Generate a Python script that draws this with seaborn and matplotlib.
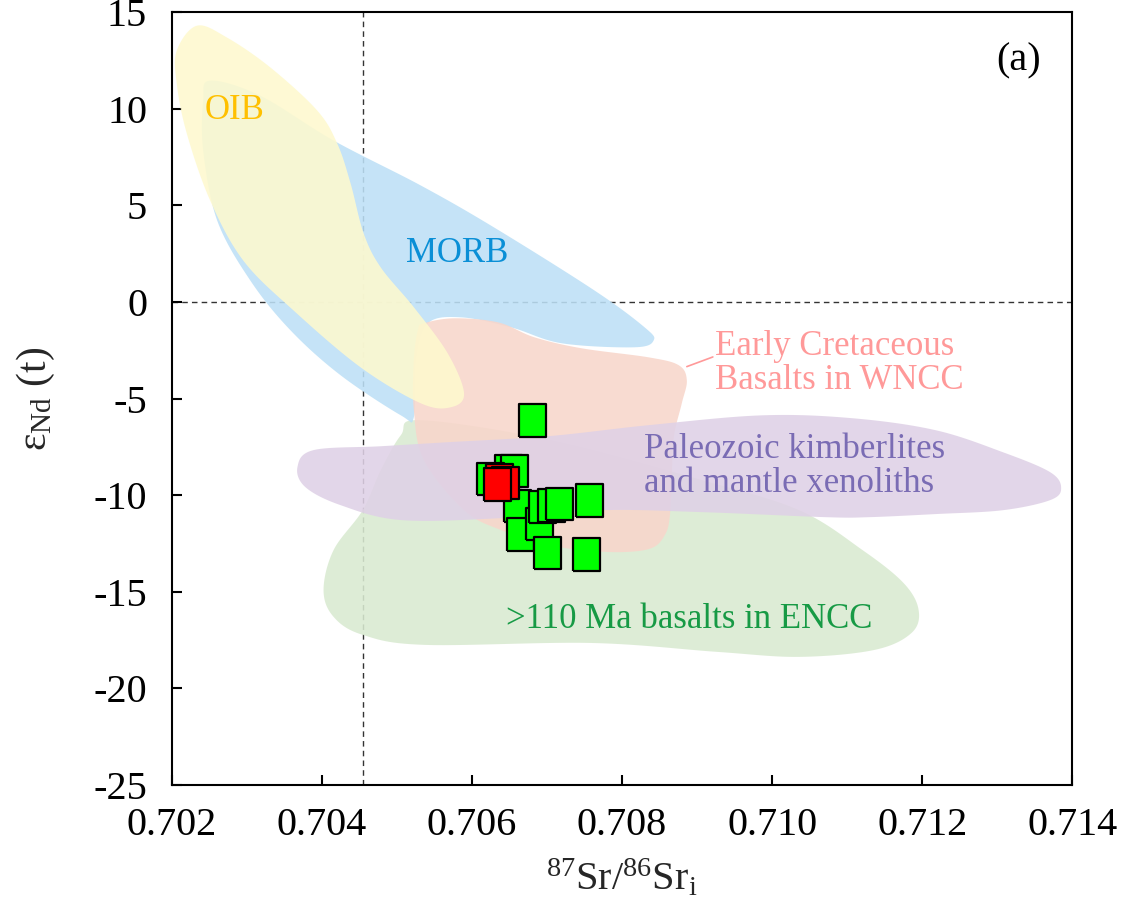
import numpy as np
import pandas as pd
import matplotlib
matplotlib.use("Agg")
import matplotlib.pyplot as plt
import seaborn as sns

# ---------------- data ----------------
green_sr = [0.70681, 0.70648, 0.70656, 0.70625, 0.70661, 0.70665, 0.70690,
            0.70694, 0.70706, 0.70717, 0.70757, 0.70701, 0.70752]
green_nd = [-6.14, -8.76, -8.76, -9.16, -10.55, -12.04, -11.50,
            -10.61, -10.54, -10.47, -10.28, -12.99, -13.07]
red_sr = [0.70636, 0.70644, 0.70634]
red_nd = [-9.22, -9.36, -9.45]

x_ticks = [0.702, 0.704, 0.706, 0.708, 0.710, 0.712, 0.714]
x_ticklabels = ["0.702", "0.704", "0.706", "0.708", "0.710", "0.712", "0.714"]
y_ticks = [15, 10, 5, 0, -5, -10, -15, -20, -25]
y_ticklabels = ["15", "10", "5", "0", "-5", "-10", "-15", "-20", "-25"]

# field outlines (data coordinates)
oib_x = [0.702063, 0.702330, 0.702732, 0.703311, 0.703936, 0.704203, 0.704381,
         0.704555, 0.704783, 0.705224, 0.705675, 0.705893, 0.705719, 0.705318,
         0.704515, 0.703619, 0.702950, 0.702508, 0.702197, 0.702063]
oib_y = [13.0, 14.29, 13.68, 12.13, 9.90, 8.19, 6.12, 3.54, 1.78, -0.28, -2.66,
         -4.73, -5.45, -5.25, -3.39, -0.44, 2.14, 5.25, 8.71, 11.29]

morb_x = [0.702508, 0.703177, 0.704154, 0.705318, 0.706294, 0.707632, 0.708301,
          0.708421, 0.708167, 0.707191, 0.706522, 0.705853, 0.705411, 0.705251,
          0.705224, 0.705050, 0.704248, 0.703579, 0.703043, 0.702602, 0.702415,
          0.702415]
morb_y = [11.45, 10.67, 8.35, 6.02, 3.85, 0.59, -1.32, -1.99, -2.35, -2.14,
          -1.32, -0.80, -1.11, -3.02, -5.97, -5.87, -3.80, -1.47, 1.11, 4.21,
          7.83, 10.41]

wncc_x = [0.705358, 0.705759, 0.706348, 0.706829, 0.707458, 0.708354, 0.708756,
          0.708863, 0.708796, 0.708689, 0.708662, 0.708635, 0.708569, 0.708394,
          0.707993, 0.707458, 0.707043, 0.706388, 0.705893, 0.705358, 0.705224,
          0.705224, 0.705278]
wncc_y = [-1.11, -0.85, -1.06, -1.83, -2.40, -2.87, -3.28, -4.06, -5.25, -7.00,
          -9.07, -11.14, -12.07, -12.74, -12.95, -12.84, -12.58, -11.81, -10.78,
          -8.19, -5.61, -3.02, -1.47]

kimb_x = [0.703672, 0.703886, 0.704783, 0.705679, 0.707017, 0.708354, 0.709866,
          0.711070, 0.712180, 0.713077, 0.713706, 0.713853, 0.713706, 0.713077,
          0.712180, 0.711298, 0.710709, 0.709063, 0.707726, 0.706388, 0.705050,
          0.704248, 0.703779]
kimb_y = [-8.55, -7.67, -7.47, -7.26, -6.95, -6.38, -5.87, -6.02, -6.64, -7.78,
          -8.81, -9.64, -10.26, -10.78, -10.98, -11.14, -11.14, -10.88, -10.78,
          -11.19, -11.29, -10.52, -9.59]

encc_x = [0.704542, 0.704154, 0.704020, 0.704154, 0.704542, 0.705371, 0.707592,
          0.709264, 0.710361, 0.711365, 0.711859, 0.711953, 0.711753, 0.711204,
          0.710361, 0.709063, 0.707057, 0.705318, 0.705050, 0.704783]
encc_y = [-10.78, -12.84, -14.91, -16.30, -17.23, -17.75, -17.65, -18.11, -18.37,
          -18.01, -17.13, -15.94, -14.55, -12.84, -10.78, -9.22, -7.16, -6.12,
          -6.90, -8.71]

ref_sr = 0.70454
ref_nd = 0.0


def smooth_closed(xs, ys, n=14):
    """Closed Catmull-Rom outline through the given vertices."""
    p = np.column_stack([xs, ys]).astype(float)
    m = len(p)
    out = []
    t = np.linspace(0, 1, n, endpoint=False)[:, None]
    for i in range(m):
        p0, p1, p2, p3 = p[i - 1], p[i], p[(i + 1) % m], p[(i + 2) % m]
        seg = 0.5 * ((2 * p1) + (-p0 + p2) * t + (2 * p0 - 5 * p1 + 4 * p2 - p3) * t ** 2
                     + (-p0 + 3 * p1 - 3 * p2 + p3) * t ** 3)
        out.append(seg)
    out = np.vstack(out)
    return out[:, 0], out[:, 1]


sns.set_style("ticks")
plt.rcParams["font.family"] = ["Liberation Serif", "DejaVu Serif"]
plt.rcParams["mathtext.fontset"] = "custom"
plt.rcParams["mathtext.rm"] = "Liberation Serif"
plt.rcParams["mathtext.it"] = "Liberation Serif:italic"
plt.rcParams["mathtext.bf"] = "Liberation Serif:bold"

fig = plt.figure(figsize=(11.28, 9.09), dpi=100)
ax = fig.add_axes([0.1525, 0.1364, 0.798, 0.8504])

# reference dashed lines
ax.axvline(ref_sr, color="#333333", lw=1.0, ls=(0, (4, 3)), zorder=0.5)
ax.axhline(ref_nd, color="#333333", lw=1.0, ls=(0, (4, 3)), zorder=0.5)

alpha = 0.88
fields = [
    (encc_x, encc_y, "#d9ead1", 1),
    (morb_x, morb_y, "#bde0f6", 2),
    (wncc_x, wncc_y, "#f8d6cb", 3),
    (oib_x, oib_y, "#fef9ce", 4),
    (kimb_x, kimb_y, "#dfd1e6", 5),
]
for fx, fy, col, z in fields:
    sx, sy = smooth_closed(fx, fy)
    ax.fill(sx, sy, color=col, alpha=alpha, lw=0, zorder=z)

# samples
df = pd.DataFrame({
    "sr": green_sr + red_sr,
    "nd": green_nd + red_nd,
    "group": ["green"] * len(green_sr) + ["red"] * len(red_sr),
})
rect = [(-0.42, -0.5), (0.42, -0.5), (0.42, 0.5), (-0.42, 0.5), (-0.42, -0.5)]
sns.scatterplot(data=df, x="sr", y="nd", hue="group",
                palette={"green": "#00ff00", "red": "#ff0000"},
                marker=rect, s=540, edgecolor="black", linewidth=1.6,
                legend=False, ax=ax, zorder=10)

# labels in the fields
fs = 25
ax.text(0.702428, 9.90, "OIB", color="#ffc000", fontsize=fs, va="center", ha="left", zorder=12)
ax.text(0.705117, 2.51, "MORB", color="#0a8fd6", fontsize=fs, va="center", ha="left", zorder=12)
ax.text(0.709237, -3.20, "Early Cretaceous\nBasalts in WNCC", color="#ff9999",
        fontsize=fs, va="center", ha="left", linespacing=1.05, zorder=12)
ax.plot([0.708863, 0.709210], [-3.35, -2.85], color="#ff9999", lw=1.2, zorder=12)
ax.text(0.708288, -8.50, "Paleozoic kimberlites\nand mantle xenoliths", color="#7a6cb4",
        fontsize=fs, va="center", ha="left", linespacing=1.05, zorder=12)
ax.text(0.706455, -16.46, ">110 Ma basalts in ENCC", color="#179a45",
        fontsize=fs, va="center", ha="left", zorder=12)
ax.text(0.713290, 12.48, "(a)", color="black", fontsize=29, va="center", ha="center", zorder=12)

# axes
ax.set_xlim(0.702, 0.714)
ax.set_ylim(-25, 15)
ax.set_xticks(x_ticks)
ax.set_xticklabels(x_ticklabels)
ax.set_yticks(y_ticks)
ax.set_yticklabels(y_ticklabels)
ax.tick_params(axis="both", direction="in", length=7, width=1.5, labelsize=29,
               top=False, right=False, colors="black")
ax.tick_params(axis="x", pad=16)
ax.tick_params(axis="y", pad=18)
for sp in ax.spines.values():
    sp.set_visible(True)
    sp.set_linewidth(1.5)
    sp.set_color("black")

ax.set_xlabel(r"$^{\mathregular{87}}$Sr/$^{\mathregular{86}}$Sr$_{\mathregular{i}}$",
              fontsize=29, labelpad=10)
ax.set_ylabel(r"ε$_{\mathregular{Nd}}$ (t)", fontsize=30, labelpad=26)

fig.savefig("out.png", dpi=100)
